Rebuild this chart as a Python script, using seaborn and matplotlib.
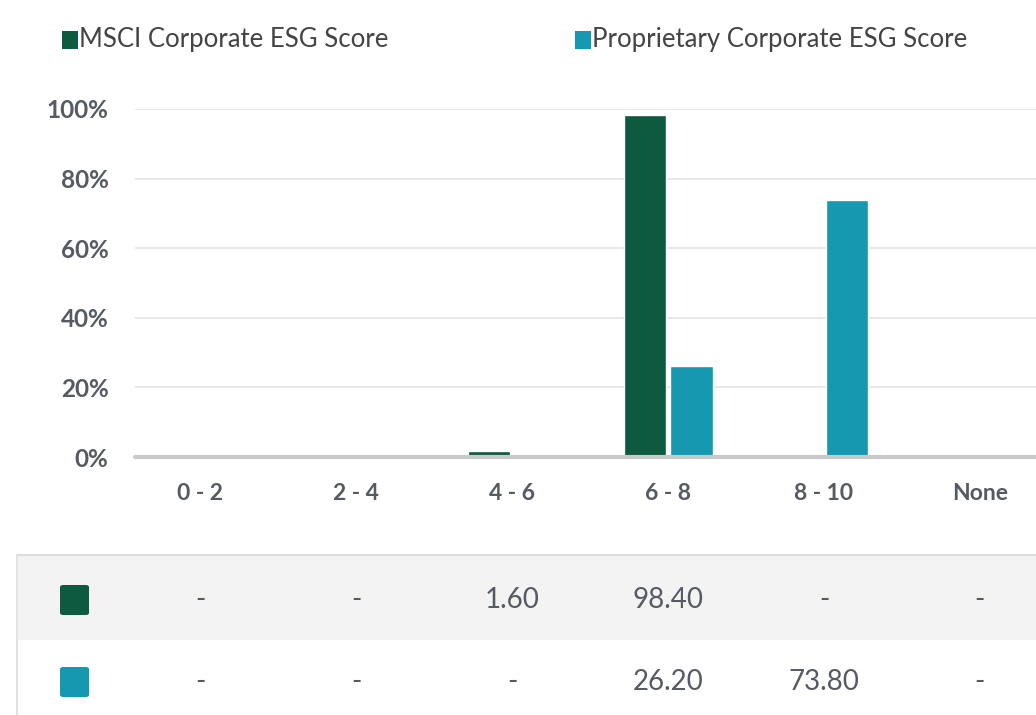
import numpy as np
import pandas as pd
import matplotlib
matplotlib.use('Agg')
import matplotlib.pyplot as plt
import matplotlib.transforms as mtransforms
from matplotlib.patches import Rectangle, FancyBboxPatch
from matplotlib.lines import Line2D
import seaborn as sns

# Data (percent of holdings per score bucket)
categories = ['0 - 2', '2 - 4', '4 - 6', '6 - 8', '8 - 10', 'None']
series_names = ['MSCI Corporate ESG Score', 'Proprietary Corporate ESG Score']
msci_pct = [0.0, 0.0, 1.6, 98.4, 0.0, 0.0]
proprietary_pct = [0.0, 0.0, 0.0, 26.2, 73.8, 0.0]
y_ticks = [0, 20, 40, 60, 80, 100]
y_tick_labels = ['0%', '20%', '40%', '60%', '80%', '100%']

GREEN = '#0d5a41'
TEAL = '#1499b0'
TEXT = '#555a63'
W, H = 1036, 715


def fx(px):
    return px / W


def fy(py):
    return 1 - py / H


sns.set_theme(style='white')
plt.rcParams['font.family'] = ['Lato', 'DejaVu Sans']

df = pd.DataFrame({
    'range': categories * 2,
    'series': [series_names[0]] * len(categories) + [series_names[1]] * len(categories),
    'pct': msci_pct + proprietary_pct,
})

fig = plt.figure(figsize=(W / 100, H / 100), dpi=100)
fig.patch.set_facecolor('white')
ax = fig.add_axes([fx(135), fy(457), fx(W - 135), 348 / H])

sns.barplot(data=df, x='range', y='pct', hue='series', order=categories,
            hue_order=series_names, palette=[GREEN, TEAL], width=0.6, gap=0.1,
            saturation=1, ax=ax, legend=False)

ax.set_xlim(-0.42, 5.36)
ax.set_ylim(0, 100)
ax.set_yticks(y_ticks)
ax.set_yticklabels(y_tick_labels, fontweight='bold', color=TEXT, fontsize=17.5)
ax.set_xticks(range(len(categories)))
ax.set_xticklabels(categories, fontweight='bold', color=TEXT, fontsize=16.5)
ax.tick_params(axis='y', length=0, pad=19)
ax.tick_params(axis='x', length=0, pad=19)
ax.set_xlabel('')
ax.set_ylabel('')
ax.yaxis.grid(True, color='#e4e4e4', lw=1.2)
ax.set_axisbelow(True)
ax.axhline(0, color='#c9c9c9', lw=3, clip_on=False, zorder=1)
for s in ax.spines.values():
    s.set_visible(False)

# Legend row at the top
legend_pos = [62, 575]
for name, color, px in zip(series_names, [GREEN, TEAL], legend_pos):
    fig.add_artist(Rectangle((fx(px), fy(49)), 16 / W, 18 / H, transform=fig.transFigure,
                             facecolor=color, edgecolor='none'))
    fig.text(fx(px + 17), fy(40), name, fontsize=18.5, color='#444444', va='center', ha='left')

# Data table under the chart
fig.add_artist(Rectangle((fx(17), fy(640)), 1 - fx(17), 85 / H, transform=fig.transFigure,
                         facecolor='#f3f3f3', edgecolor='none', zorder=0))
fig.add_artist(Line2D([fx(17), 1], [fy(555), fy(555)], transform=fig.transFigure,
                      color='#dcdcdc', lw=1.5))
fig.add_artist(Line2D([fx(17), fx(17)], [fy(555), 0], transform=fig.transFigure,
                      color='#e2e2e2', lw=1.5))

trans = mtransforms.blended_transform_factory(ax.transData, fig.transFigure)
rows = [(msci_pct, GREEN, 600), (proprietary_pct, TEAL, 682)]
for values, color, py in rows:
    fig.add_artist(FancyBboxPatch((fx(60), fy(py + 15)), 29 / W, 30 / H,
                                  boxstyle='round,pad=0,rounding_size=0.003',
                                  transform=fig.transFigure, facecolor=color,
                                  edgecolor='none'))
    for i, v in enumerate(values):
        label = f'{v:.2f}' if v > 0 else '-'
        fig.text(i, fy(py), label, transform=trans, ha='center', va='center',
                 fontsize=20, color=TEXT)

plt.savefig('out.png', dpi=100)
print('Saved: out.png')
